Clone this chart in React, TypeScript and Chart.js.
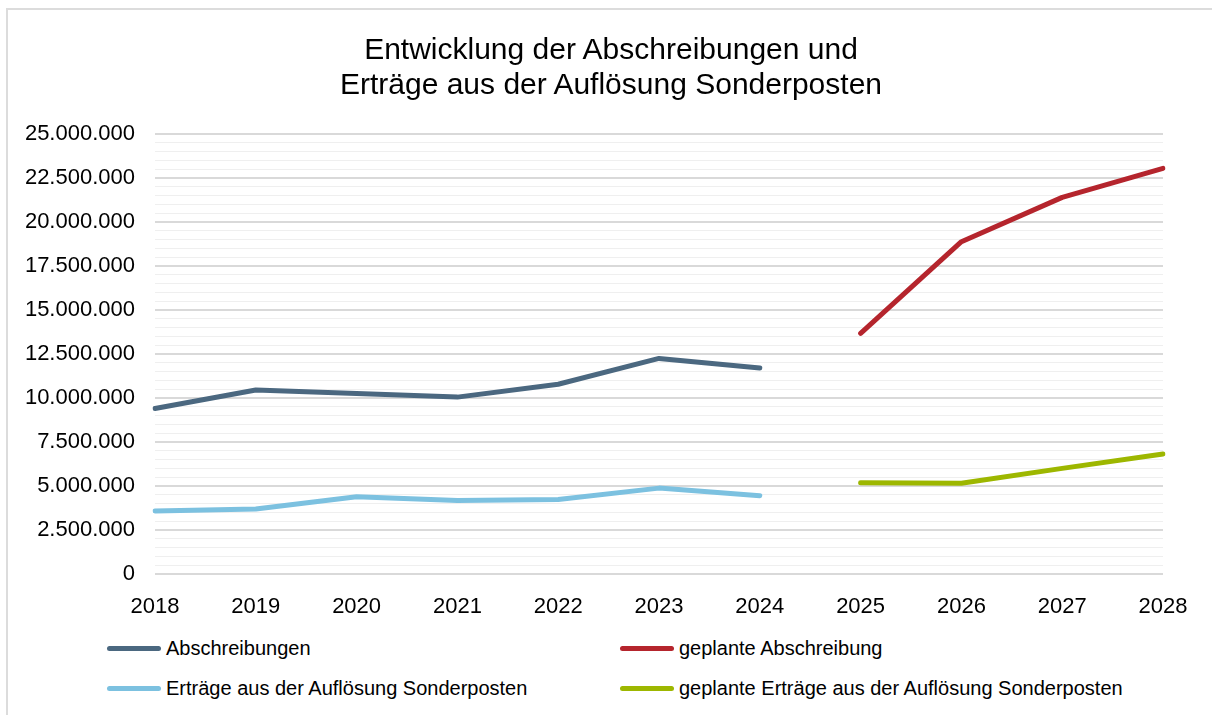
import React, { useEffect, useRef } from 'react';
import { Chart, registerables } from 'chart.js';

Chart.register(...registerables);

const years = ['2018', '2019', '2020', '2021', '2022', '2023', '2024', '2025', '2026', '2027', '2028'];
const abschreibungen = [9400000, 10450000, 10260000, 10050000, 10780000, 12250000, 11700000, null, null, null, null];
const ertraege = [3580000, 3690000, 4390000, 4170000, 4230000, 4880000, 4450000, null, null, null, null];
const geplanteAbschreibung = [null, null, null, null, null, null, null, 13670000, 18880000, 21400000, 23050000];
const geplanteErtraege = [null, null, null, null, null, null, null, 5180000, 5160000, 6000000, 6820000];

const seriesNames = [
  'Abschreibungen',
  'geplante Abschreibung',
  'Erträge aus der Auflösung Sonderposten',
  'geplante Erträge aus der Auflösung Sonderposten',
];
const seriesColors = ['#4B6880', '#B5252D', '#7CC1E0', '#9DB700'];
const titleLines = ['Entwicklung der Abschreibungen und', 'Erträge aus der Auflösung Sonderposten'];

const FONT = "'Liberation Sans', Arial, sans-serif";

function formatDe(v: number): string {
  const s = Math.round(v).toString();
  return s.replace(/\B(?=(\d{3})+(?!\d))/g, '.');
}

export default function App() {
  const ref = useRef<HTMLCanvasElement>(null);

  useEffect(() => {
    const seriesData = [abschreibungen, geplanteAbschreibung, ertraege, geplanteErtraege];
    const order = [0, 2, 1, 3];
    const chart = new Chart(ref.current as HTMLCanvasElement, {
      type: 'line',
      data: {
        labels: years,
        datasets: order.map((i) => ({
          label: seriesNames[i],
          data: seriesData[i],
          borderColor: seriesColors[i],
          backgroundColor: seriesColors[i],
          borderWidth: 5,
          pointRadius: 0,
          pointHoverRadius: 0,
          borderCapStyle: 'round' as const,
          borderJoinStyle: 'round' as const,
          spanGaps: false,
          tension: 0,
        })),
      },
      options: {
        animation: false,
        responsive: true,
        maintainAspectRatio: false,
        layout: { padding: { left: 0, right: 49, top: 134, bottom: 0 } },
        font: { family: FONT },
        plugins: {
          legend: { display: false },
          tooltip: { enabled: false },
          title: { display: false },
        },
        scales: {
          x: {
            grid: { display: false },
            border: { display: false },
            ticks: {
              color: '#000',
              font: { family: FONT, size: 22 },
              padding: 12,
              maxRotation: 0,
              autoSkip: false,
            },
            afterFit: (s: any) => {
              s.height = 46;
            },
          },
          y: {
            min: 0,
            max: 25000000,
            border: { display: false },
            grid: {
              drawTicks: false,
              color: (ctx: any) =>
                ctx.tick && ctx.tick.value % 2500000 === 0 ? '#d9d9d9' : '#efefef',
              lineWidth: (ctx: any) => (ctx.tick && ctx.tick.value % 2500000 === 0 ? 2 : 1),
            },
            ticks: {
              stepSize: 500000,
              maxTicksLimit: 100,
              autoSkip: false,
              color: '#000',
              font: { family: FONT, size: 22 },
              padding: 20,
              callback: (v: any) => (Number(v) % 2500000 === 0 ? formatDe(Number(v)) : ''),
            },
            afterFit: (s: any) => {
              s.width = 155;
            },
          },
        },
      },
    });
    return () => chart.destroy();
  }, []);

  const legendPos = [
    { left: 107, top: 648 },
    { left: 620, top: 648 },
    { left: 107, top: 688 },
    { left: 620, top: 688 },
  ];

  return (
    <div
      style={{
        position: 'absolute',
        left: 0,
        top: 0,
        width: 1212,
        height: 715,
        overflow: 'hidden',
        background: '#fff',
        fontFamily: FONT,
      }}
    >
      <div
        style={{
          position: 'absolute',
          left: 6,
          top: 8,
          right: 0,
          bottom: 0,
          borderTop: '2px solid #dcdcdc',
          borderLeft: '2px solid #dcdcdc',
        }}
      />
      <div style={{ position: 'absolute', left: 0, top: 0, width: 1212, height: 620 }}>
        <canvas ref={ref} />
      </div>
      <div
        style={{
          position: 'absolute',
          left: 0,
          top: 31,
          width: 1222,
          textAlign: 'center',
          fontSize: 30,
          lineHeight: '35px',
          color: '#000',
          whiteSpace: 'nowrap',
        }}
      >
        {titleLines.map((t) => (
          <div key={t}>{t}</div>
        ))}
      </div>
      {seriesNames.map((name, i) => (
        <div
          key={name}
          style={{
            position: 'absolute',
            left: legendPos[i].left,
            top: legendPos[i].top - 12,
            height: 24,
            display: 'flex',
            alignItems: 'center',
            whiteSpace: 'nowrap',
          }}
        >
          <div
            style={{
              width: 54,
              height: 5,
              borderRadius: 3,
              background: seriesColors[i],
              marginRight: 5,
            }}
          />
          <span style={{ fontSize: 20, lineHeight: '24px', color: '#000' }}>{name}</span>
        </div>
      ))}
    </div>
  );
}
